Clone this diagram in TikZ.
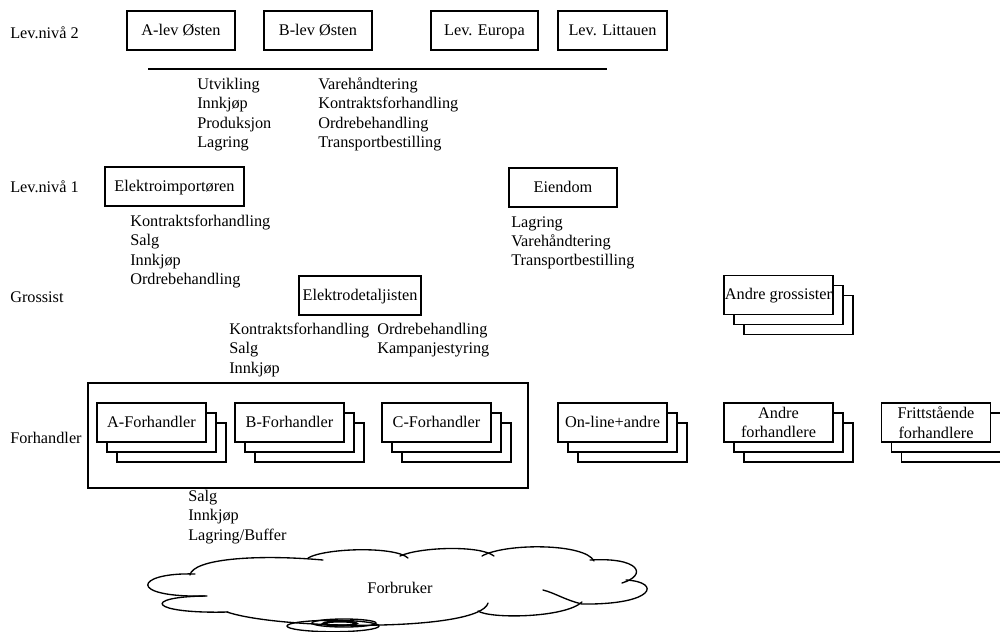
\documentclass[tikz,border=0pt]{standalone}
\usepackage{fontspec}
\setmainfont{Liberation Serif}
\begin{document}
\begin{tikzpicture}[x=0.75pt,y=-0.75pt,
  every node/.style={font=\fontsize{12.2pt}{14.7pt}\selectfont, inner sep=0pt},
  box/.style={draw, line width=1.1pt, minimum height=29.25pt, align=center},
  oneline/.style={text height=0.9em, text depth=0.2em},
  stackbox/.style={box, fill=white, minimum width=81.75pt},
  item/.style={anchor=base west},
  lvl/.style={anchor=base west},
  cloudline/.style={line width=1pt, line cap=round}
]
\clip (0,0) rectangle (1000,632);
\fill[white] (0,0) rectangle (1000,632);

% a box with two offset copies behind it; #5 holds extra options for the front box
\newcommand{\stackof}[5]{%
  \node[stackbox] (#1c) at ({#2+20},{#3+20}) {};
  \node[stackbox] (#1b) at ({#2+10},{#3+10}) {};
  \node[stackbox, #5] (#1) at (#2,#3) {#4};}

% level labels
\node[lvl] (lv2) at (10,38) {Lev.nivå 2};
\node[lvl] (lv1) at (10,192) {Lev.nivå 1};
\node[lvl] (gro) at (10,302) {Grossist};
\node[lvl] (fh)  at (10,443) {Forhandler};

% level 2 suppliers
\node[box, oneline, minimum width=81pt] (alev) at (181,30.5) {A-lev Østen};
\node[box, oneline, minimum width=81pt] (blev) at (318,30.5) {B-lev Østen};
\node[box, oneline, minimum width=80.25pt] (leu) at (484.5,30.5) {Lev. Europa};
\node[box, oneline, minimum width=81.75pt] (llt) at (612.5,30.5) {Lev. Littauen};
\coordinate (rl) at (148,69);
\coordinate (rr) at (607,69);
\draw[line width=1.5pt] (rl) -- (rr);

\foreach \t [count=\i from 0] in {Utvikling, Innkjøp, Produksjon, Lagring}
  \node[item] (ua\i) at (197,{89+19.6*\i}) {\t};
\foreach \t [count=\i from 0] in {Varehåndtering, Kontraktsforhandling, Ordrebehandling, Transportbestilling}
  \node[item] (ub\i) at (318,{89+19.6*\i}) {\t};

% level 1
\node[box, oneline, minimum width=104.25pt] (eimp) at (174.5,186.5) {Elektroimportøren};
\node[box, oneline, minimum width=81pt] (eien) at (563,187.5) {Eiendom};
\foreach \t [count=\i from 0] in {Kontraktsforhandling, Salg, Innkjøp, Ordrebehandling}
  \node[item] (ia\i) at (130,{226+19.5*\i}) {\t};
\foreach \t [count=\i from 0] in {Lagring, Varehåndtering, Transportbestilling}
  \node[item] (ea\i) at (511,{227+19.3*\i}) {\t};

% wholesalers
\node[box, oneline, minimum width=91.5pt, minimum height=29.5pt] (edet) at (360,295.5) {Elektrodetaljisten};
\foreach \t [count=\i from 0] in {Kontraktsforhandling, Salg, Innkjøp}
  \node[item] (da\i) at (229,{334+19.6*\i}) {\t};
\foreach \t [count=\i from 0] in {Ordrebehandling, Kampanjestyring}
  \node[item] (db\i) at (377,{334+19.6*\i}) {\t};
\stackof{agro}{778.5}{295}{Andre grossister}{oneline}

% retailers
\node[draw, line width=1.1pt, minimum width=330pt, minimum height=78.75pt] (fgroup) at (308,435.5) {};
\stackof{afh}{151.5}{422.5}{A-Forhandler}{oneline}
\stackof{bfh}{289.5}{422.5}{B-Forhandler}{oneline}
\stackof{cfh}{436.5}{422.5}{C-Forhandler}{oneline}
\stackof{onl}{612.5}{422.5}{On-line+andre}{oneline}
\stackof{afo}{778.5}{422.5}{Andre\\forhandlere}{}
\stackof{ffo}{936}{422.5}{Frittstående\\forhandlere}{}
\foreach \t [count=\i from 0] in {Salg, Innkjøp, Lagring/Buffer}
  \node[item] (fa\i) at (188,{501+19.6*\i}) {\t};

% consumer cloud, drawn bump by bump
\draw[cloudline] (207,596) .. controls (125,598) and (135,572) .. (195,574);
\draw[cloudline] (190,575) .. controls (193,559) and (255,554) .. (323,560);
\draw[cloudline] (308,558) .. controls (325,548) and (395,546) .. (408,558);
\draw[cloudline] (400,556) .. controls (420,547) and (480,545) .. (494,556);
\draw[cloudline] (482,556) .. controls (505,543) and (585,543) .. (594,561);
\draw[cloudline] (590,560) .. controls (640,557) and (648,575) .. (622,583);
\draw[cloudline] (626,580) .. controls (662,582) and (655,605) .. (582,604)
                 .. controls (565,600) and (555,593) .. (543,590);
\draw[cloudline] (478,611) .. controls (490,619) and (565,618) .. (582,602);
\draw[cloudline] (488,603) .. controls (480,632) and (280,630) .. (227,612);
\draw[cloudline] (228,612) .. controls (150,614) and (140,597) .. (205,596);
\draw[cloudline] (333,626) ellipse [x radius=34.5pt, y radius=4.3pt];
\draw[cloudline] (344,623) ellipse [x radius=24pt, y radius=3pt];
\draw[line width=1.6pt] (340,623.5) ellipse [x radius=12.5pt, y radius=1.5pt];
\node (forb) at (400,588) {Forbruker};
\end{tikzpicture}
\end{document}
